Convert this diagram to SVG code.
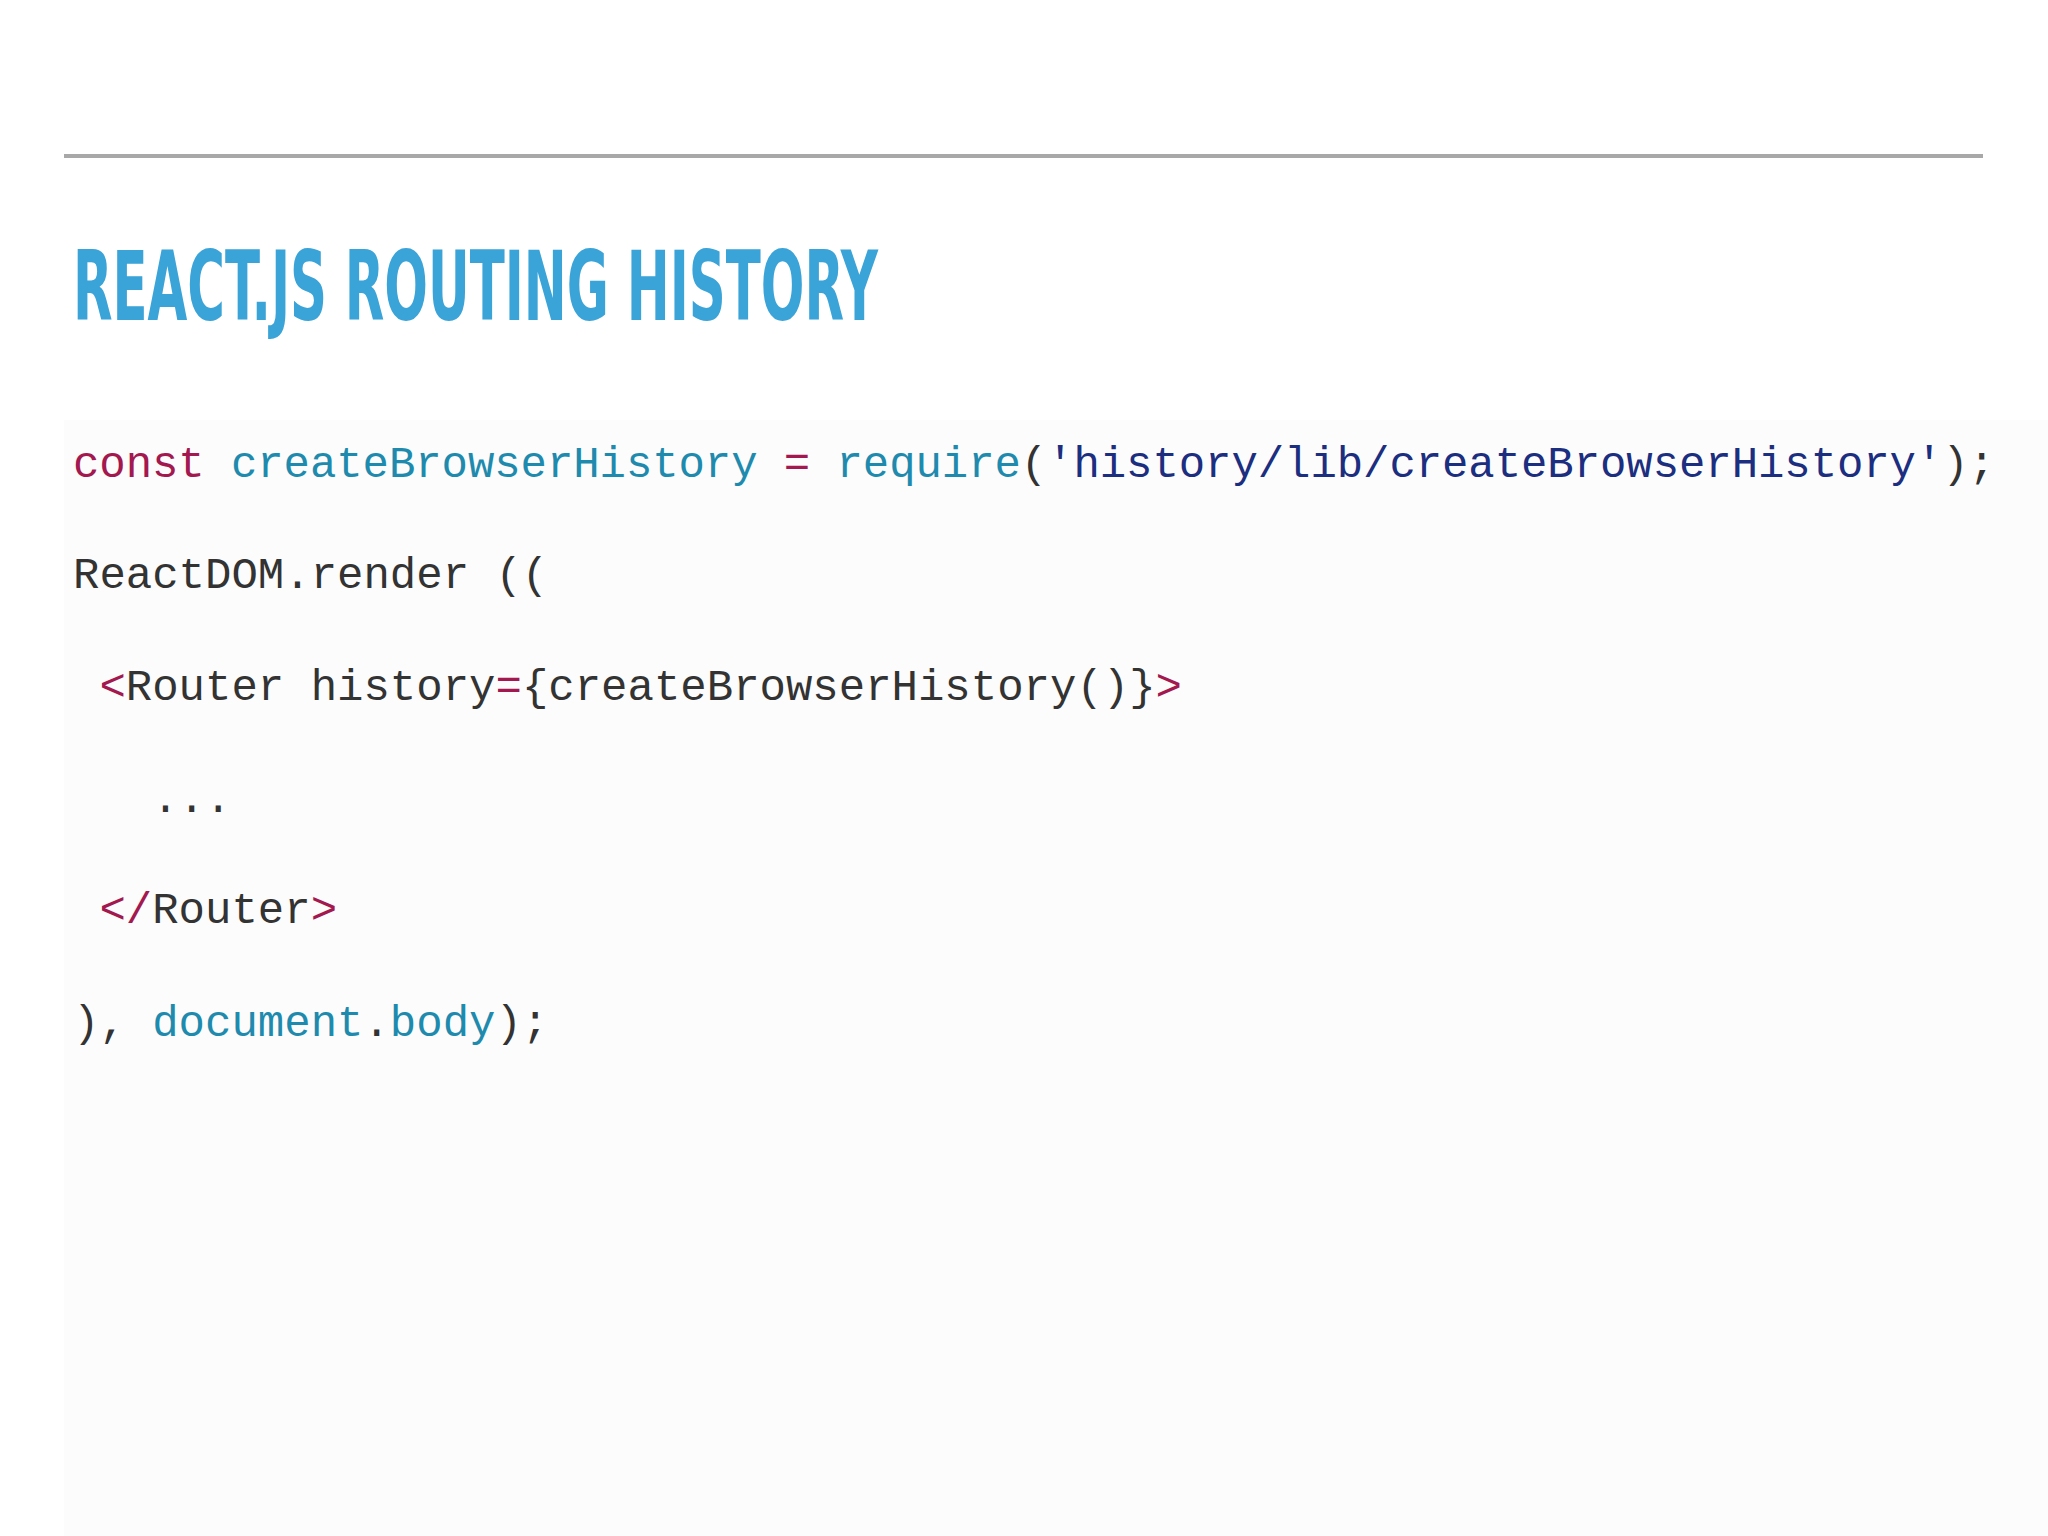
<svg xmlns="http://www.w3.org/2000/svg" width="2048" height="1536" viewBox="0 0 2048 1536">
<style>
.c{font-family:"Liberation Mono","DejaVu Sans Mono",monospace;font-size:44px;fill:#333333;white-space:pre}
.k{fill:#a3184f}.t{fill:#1e8bae}.s{fill:#1c2e80}
</style>
<rect width="2048" height="1536" fill="#ffffff"/>
<rect x="64" y="420" width="1984" height="1116" fill="#fcfcfc"/>
<line x1="64" y1="156" x2="1983" y2="156" stroke="#a8a8a8" stroke-width="4"/>
<text x="73" y="320" font-family="'DejaVu Sans Condensed','Liberation Sans Narrow',sans-serif" font-stretch="condensed" font-weight="bold" font-size="96" fill="#3aa3d8" textLength="805" lengthAdjust="spacingAndGlyphs">REACT.JS ROUTING HISTORY</text>
<g id="code">
<text class="c" x="73" y="477" textLength="1922" lengthAdjust="spacing"><tspan class="k">const</tspan> <tspan class="t">createBrowserHistory</tspan> <tspan class="k">=</tspan> <tspan class="t">require</tspan>(<tspan class="s">'history/lib/createBrowserHistory'</tspan>);</text>
<text class="c" x="73" y="588">ReactDOM.render ((</text>
<text class="c" x="73" y="700"> <tspan class="k">&lt;</tspan>Router history<tspan class="k">=</tspan>{createBrowserHistory()}<tspan class="k">&gt;</tspan></text>
<text class="c" x="73" y="812">   ...</text>
<text class="c" x="73" y="923"> <tspan class="k">&lt;/</tspan>Router<tspan class="k">&gt;</tspan></text>
<text class="c" x="73" y="1036">), <tspan class="t">document</tspan>.<tspan class="t">body</tspan>);</text>
</g>
</svg>
